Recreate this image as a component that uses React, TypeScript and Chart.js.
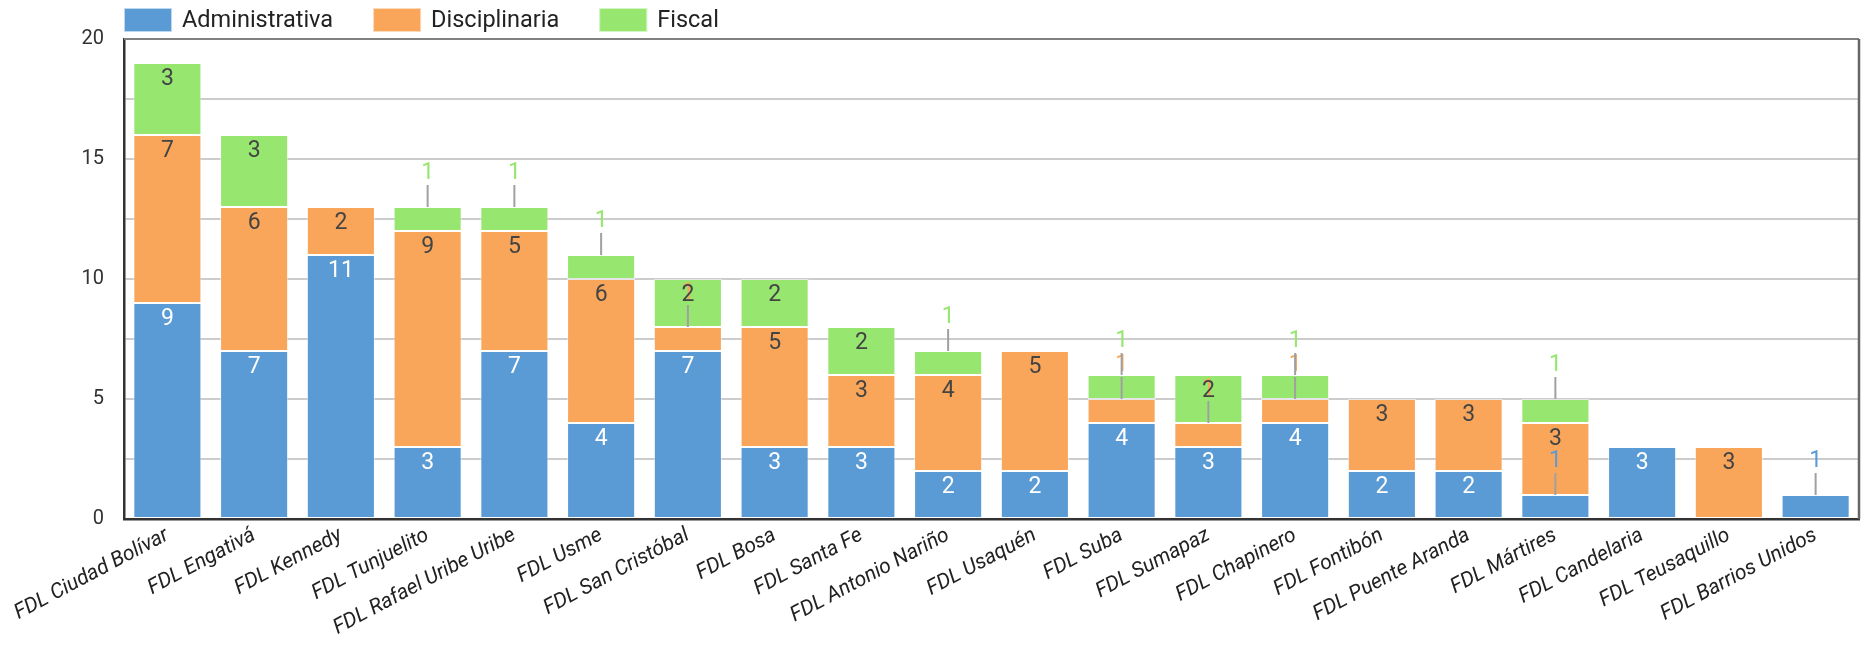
import React, { useEffect, useRef } from 'react';
import { Chart, registerables } from 'chart.js';

Chart.register(...registerables);

const categories = [
  'FDL Ciudad Bolívar', 'FDL Engativá', 'FDL Kennedy', 'FDL Tunjuelito',
  'FDL Rafael Uribe Uribe', 'FDL Usme', 'FDL San Cristóbal', 'FDL Bosa',
  'FDL Santa Fe', 'FDL Antonio Nariño', 'FDL Usaquén', 'FDL Suba',
  'FDL Sumapaz', 'FDL Chapinero', 'FDL Fontibón', 'FDL Puente Aranda',
  'FDL Mártires', 'FDL Candelaria', 'FDL Teusaquillo', 'FDL Barrios Unidos',
];
const administrativa = [9, 7, 11, 3, 7, 4, 7, 3, 3, 2, 2, 4, 3, 4, 2, 2, 1, 3, 0, 1];
const disciplinaria = [7, 6, 2, 9, 5, 6, 1, 5, 3, 4, 5, 1, 1, 1, 3, 3, 3, 0, 3, 0];
const fiscal = [3, 3, 0, 1, 1, 1, 2, 2, 2, 1, 0, 1, 2, 1, 0, 0, 1, 0, 0, 0];
const seriesNames = ['Administrativa', 'Disciplinaria', 'Fiscal'];
const seriesColors = ['#5B9BD5', '#F9A65A', '#96E66F'];
const yTickLabels = [0, 5, 10, 15, 20];

const FONT = 'Roboto';

const legendPlugin = {
  id: 'customLegend',
  afterDraw(chart: any) {
    const ctx = chart.ctx;
    ctx.save();
    ctx.font = `23.5px ${FONT}`;
    ctx.textBaseline = 'middle';
    ctx.textAlign = 'left';
    let x = chart.chartArea.left;
    chart.data.datasets.forEach((ds: any) => {
      ctx.fillStyle = ds.backgroundColor;
      ctx.fillRect(x, 8, 48, 24);
      ctx.strokeStyle = 'rgba(255,255,255,0.6)';
      ctx.lineWidth = 1;
      ctx.strokeRect(x + 0.5, 8.5, 47, 23);
      ctx.fillStyle = '#222';
      ctx.fillText(ds.label, x + 58, 21);
      x += 58 + ctx.measureText(ds.label).width + 40;
    });
    ctx.restore();
  },
};

const framePlugin = {
  id: 'frame',
  beforeDatasetsDraw(chart: any) {
    const { ctx, chartArea: a } = chart;
    ctx.save();
    ctx.strokeStyle = '#808080';
    ctx.lineWidth = 2;
    ctx.beginPath();
    ctx.moveTo(a.left, a.top);
    ctx.lineTo(a.right, a.top);
    ctx.stroke();
    ctx.strokeStyle = '#666';
    ctx.lineWidth = 2.5;
    ctx.beginPath();
    ctx.moveTo(a.right, a.top);
    ctx.lineTo(a.right, a.bottom);
    ctx.stroke();
    ctx.restore();
  },
};

const valueLabelPlugin = {
  id: 'valueLabels',
  afterDatasetsDraw(chart: any) {
    const ctx = chart.ctx;
    ctx.save();
    ctx.font = `23px ${FONT}`;
    ctx.textAlign = 'center';
    ctx.textBaseline = 'middle';
    chart.data.datasets.forEach((ds: any, i: number) => {
      const meta = chart.getDatasetMeta(i);
      meta.data.forEach((bar: any, j: number) => {
        const v = ds.data[j];
        if (v === null || v === undefined || v === 0) return;
        const h = Math.abs(bar.base - bar.y);
        if (h >= 30) {
          ctx.fillStyle = i === 0 ? '#ffffff' : '#444444';
          ctx.fillText(String(v), bar.x, bar.y + 16);
        } else {
          ctx.strokeStyle = '#a0a0a0';
          ctx.lineWidth = 2;
          ctx.beginPath();
          ctx.moveTo(bar.x, bar.y);
          ctx.lineTo(bar.x, bar.y - 22);
          ctx.stroke();
          ctx.fillStyle = ds.backgroundColor;
          ctx.fillText(String(v), bar.x, bar.y - 34);
        }
      });
    });
    ctx.restore();
  },
};

export default function App() {
  const canvasRef = useRef<HTMLCanvasElement | null>(null);

  useEffect(() => {
    document.body.style.margin = '0';
    const canvas = canvasRef.current;
    if (!canvas) return;
    const series = [administrativa, disciplinaria, fiscal];
    const chart = new Chart(canvas, {
      type: 'bar',
      data: {
        labels: categories,
        datasets: series.map((s, i) => ({
          label: seriesNames[i],
          data: s.map((v) => (v === 0 ? null : v)),
          backgroundColor: seriesColors[i],
          borderColor: 'rgba(255,255,255,0.5)',
          borderWidth: 1,
          borderSkipped: false,
          categoryPercentage: 1,
          barPercentage: 0.785,
        })),
      },
      options: {
        animation: false,
        responsive: true,
        maintainAspectRatio: false,
        layout: { padding: { top: 39, right: 6, left: 0, bottom: 0 } },
        plugins: {
          legend: { display: false },
          tooltip: { enabled: false },
        },
        scales: {
          x: {
            stacked: true,
            grid: { display: false },
            border: { display: true, color: '#333', width: 2.5 },
            ticks: {
              autoSkip: false,
              maxRotation: 28,
              minRotation: 28,
              padding: -4,
              color: '#222',
              font: { family: FONT, size: 21, style: 'italic' },
            },
            afterFit(scale: any) {
              scale.height = 140;
            },
          },
          y: {
            stacked: true,
            min: 0,
            max: 20,
            grid: { color: '#cccccc', lineWidth: 2, drawTicks: false },
            border: { display: true, color: '#333', width: 2.5 },
            ticks: {
              stepSize: 2.5,
              padding: 20,
              color: '#333',
              font: { family: FONT, size: 20 },
              callback: (v: any) => (yTickLabels.includes(Number(v)) ? String(v) : ''),
            },
            afterFit(scale: any) {
              scale.width = 124;
            },
          },
        },
      },
      plugins: [framePlugin, valueLabelPlugin, legendPlugin],
    });
    return () => chart.destroy();
  }, []);

  return (
    <div style={{ position: 'relative', width: '1865px', height: '659px' }}>
      <canvas ref={canvasRef} />
    </div>
  );
}
